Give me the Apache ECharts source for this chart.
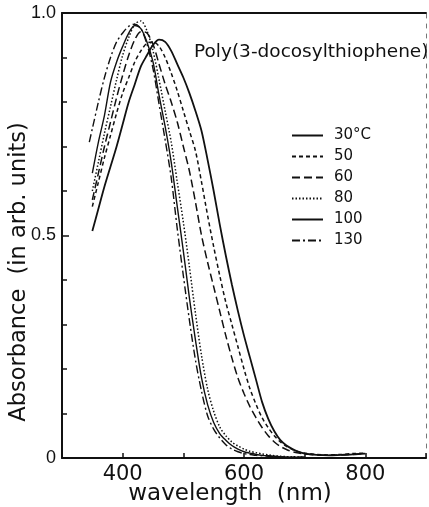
<!DOCTYPE html>
<html>
<head>
<meta charset="utf-8">
<script src="https://cdn.jsdelivr.net/npm/echarts@6/dist/echarts.min.js"></script>
<style>
html,body{margin:0;padding:0;background:#fff;}
#c{width:429px;height:507px;}
</style>
</head>
<body>
<div id="c"></div>
<script>
// Wavelength grid (nm)
var wavelengths = [345,350,360,370,380,390,400,410,420,430,440,450,460,470,480,490,500,510,520,530,540,550,560,570,580,590,600,610,620,630,640,650,660,670,680,690,700,720,740,760,780,800];

// Absorbance series (arb. units) by temperature
var abs30 = [null,0.51,0.56,0.61,0.655,0.70,0.75,0.80,0.84,0.88,0.905,0.928,0.94,0.935,0.915,0.885,0.855,0.82,0.78,0.735,0.67,0.60,0.525,0.455,0.39,0.33,0.275,0.225,0.175,0.125,0.088,0.06,0.04,0.028,0.02,0.014,0.01,0.007,0.006,0.007,0.008,0.01];
var abs50 = [null,0.565,0.62,0.675,0.725,0.775,0.82,0.855,0.89,0.915,0.932,0.935,0.925,0.90,0.865,0.825,0.78,0.735,0.69,0.62,0.545,0.475,0.41,0.35,0.30,0.25,0.20,0.155,0.12,0.09,0.068,0.05,0.036,0.026,0.019,0.014,0.011,0.008,0.007,0.008,0.01,0.011];
var abs60 = [null,0.58,0.64,0.70,0.755,0.81,0.86,0.905,0.94,0.958,0.955,0.93,0.885,0.84,0.80,0.755,0.70,0.645,0.575,0.50,0.44,0.385,0.33,0.275,0.225,0.18,0.145,0.115,0.09,0.068,0.05,0.036,0.026,0.019,0.014,0.011,0.009,0.007,0.006,0.007,0.008,0.01];
var abs80 = [null,0.60,0.665,0.73,0.79,0.85,0.905,0.945,0.975,0.982,0.96,0.915,0.85,0.78,0.71,0.62,0.53,0.43,0.325,0.23,0.155,0.105,0.07,0.05,0.036,0.027,0.02,0.015,0.012,0.009,0.007,0.005,0.004,0.003,0.003,0.002,0.002,null,null,null,null,null];
var abs100 = [null,0.64,0.71,0.77,0.845,0.89,0.925,0.955,0.972,0.965,0.935,0.89,0.815,0.745,0.665,0.565,0.465,0.36,0.265,0.18,0.12,0.08,0.055,0.04,0.028,0.02,0.014,0.011,0.008,0.006,0.005,0.004,0.003,0.002,0.002,0.002,0.002,null,null,null,null,null];
var abs130 = [0.71,0.74,0.80,0.855,0.90,0.935,0.955,0.97,0.975,0.965,0.93,0.875,0.795,0.715,0.63,0.515,0.41,0.31,0.22,0.15,0.095,0.065,0.045,0.03,0.02,0.014,0.01,0.008,0.006,0.005,0.004,0.003,0.003,0.002,0.002,0.002,0.002,null,null,null,null,null];

var seriesNames = ['30°C','50','60','80','100','130'];
var xTickLabels = [400,600,800];
var yTickLabels = ['0','0.5','1.0'];
var titleText = 'Poly(3-docosylthiophene)';
var xTitle = 'wavelength  (nm)';
var yTitle = 'Absorbance  (in arb. units)';

var allAbs = [abs30, abs50, abs60, abs80, abs100, abs130];
var styles = [
  {type:'solid', width:1.8},
  {type:[4,3], width:1.5},
  {type:[8,4], width:1.5},
  {type:[1.5,2], width:1.5},
  {type:'solid', width:1.4},
  {type:[8,3,2,3], width:1.4}
];

function pairs(arr){
  var out = [];
  for (var i=0;i<wavelengths.length;i++){ if (arr[i]!==null) out.push([wavelengths[i], arr[i]]); }
  return out;
}

var series = seriesNames.map(function(n,i){
  return {
    name:n, type:'line', smooth:0.3, symbol:'none', xAxisIndex:0, yAxisIndex:0,
    data: pairs(allAbs[i]),
    lineStyle:{color:'#111', width:styles[i].width, type:styles[i].type},
    itemStyle:{color:'#111'}
  };
});

var chart = echarts.init(document.getElementById('c'), null, {renderer:'canvas'});
chart.setOption({
  animation:false,
  backgroundColor:'#fff',
  grid:{left:62, right:1, top:13, bottom:49, containLabel:false},
  xAxis:[{
    type:'value', min:300, max:900, interval:100,
    axisLine:{show:true, lineStyle:{color:'#111', width:2}},
    axisTick:{show:true, inside:true, length:5, lineStyle:{color:'#111', width:1.5}},
    splitLine:{show:false},
    axisLabel:{color:'#111', fontSize:21, fontFamily:'DejaVu Sans', margin:6,
      formatter:function(v){ return xTickLabels.indexOf(v)>=0 ? String(v) : ''; }}
  },{
    type:'value', min:300, max:900, position:'top',
    axisLine:{show:true, onZero:false, lineStyle:{color:'#111', width:2}},
    axisTick:{show:false}, axisLabel:{show:false}, splitLine:{show:false}
  }],
  yAxis:[{
    type:'value', min:0, max:1, interval:0.5,
    axisLine:{show:true, lineStyle:{color:'#111', width:2}},
    axisTick:{show:true, inside:true, length:7, lineStyle:{color:'#111', width:1.5}},
    minorTick:{show:true, splitNumber:5, length:5, lineStyle:{color:'#111', width:1.5}},
    splitLine:{show:false},
    axisLabel:{color:'#111', fontSize:18, fontFamily:'Liberation Sans', margin:6,
      formatter:function(v){ return yTickLabels[Math.round(v*2)]; }}
  },{
    type:'value', min:0, max:1, position:'right',
    axisLine:{show:true, onZero:false, lineStyle:{color:'#777', width:1, type:[4,6]}},
    axisTick:{show:false}, axisLabel:{show:false}, splitLine:{show:false}
  }],
  legend:{
    data:seriesNames, orient:'vertical', left:291, top:128, padding:0,
    itemWidth:31, itemHeight:14, itemGap:6, selectedMode:false,
    itemStyle:{opacity:0, borderWidth:0},
    textStyle:{color:'#111', fontSize:15, fontFamily:'DejaVu Sans', padding:[0,0,0,6]}
  },
  graphic:[
    {type:'text', left:194, top:43, style:{text:titleText, fontSize:18.5, fontFamily:'DejaVu Sans', fill:'#111'}},
    {type:'text', x:230, y:494, style:{text:xTitle, fontSize:23, fontFamily:'DejaVu Sans', fill:'#111', textAlign:'center', textVerticalAlign:'middle'}},
    {type:'text', x:19, y:272, rotation:Math.PI/2, style:{text:yTitle, fontSize:22.5, fontFamily:'DejaVu Sans', fill:'#111', textAlign:'center', textVerticalAlign:'middle'}}
  ],
  series:series
});
</script>
</body>
</html>
